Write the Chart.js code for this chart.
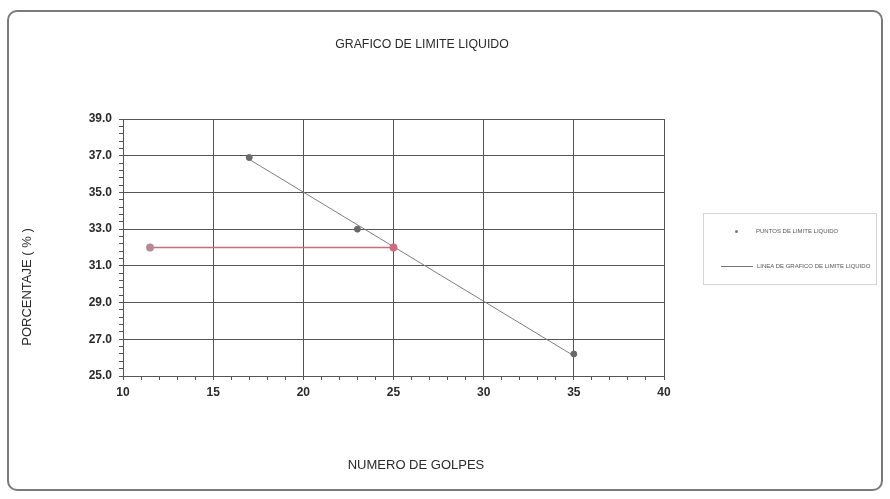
<!DOCTYPE html>
<html>
<head>
<meta charset="utf-8">
<script src="https://cdn.jsdelivr.net/npm/chart.js@4.4.1/dist/chart.umd.min.js"></script>
<style>
    html, body { margin: 0; padding: 0; background: #fff; }
    #wrap { position: relative; width: 890px; height: 499px; font-family: "Liberation Sans", Arial, sans-serif; color: #2a2a2a; }
    #frame {
        position: absolute; left: 7px; top: 10px; width: 872px; height: 477px;
        border: 2px solid #7a7a7a; border-radius: 10px;
    }
    #chart { position: absolute; left: 0; top: 0; }
    .label { position: absolute; white-space: nowrap; text-align: center; }
    #title { left: 272px; top: 37px; width: 300px; font-size: 12.3px; line-height: 14px; }
    #xTitle { left: 266px; top: 457px; width: 300px; font-size: 13px; line-height: 16px; }
    #yTitle { left: -73px; top: 279px; width: 200px; font-size: 13px; line-height: 16px; transform: rotate(-90deg); }
    #legend {
        position: absolute; left: 703px; top: 213px; width: 172px; height: 70px;
        border: 1px solid #d4d4d4; font-size: 6px; color: #555;
    }
    .item { position: absolute; left: 0; display: flex; align-items: center; white-space: nowrap; }
    .dot { width: 3px; height: 3px; border-radius: 50%; background: #777; margin: 0 18px 0 31px; }
    .seg { width: 32px; height: 1px; background: #777; margin: 0 4px 0 17px; }
</style>
</head>
<body>
<div id="wrap">
    <div id="frame"></div>
    <canvas id="chart" width="890" height="499"></canvas>
    <div class="label" id="title">GRAFICO DE LIMITE LIQUIDO</div>
    <div class="label" id="xTitle">NUMERO DE GOLPES</div>
    <div class="label" id="yTitle">PORCENTAJE ( % )</div>
    <div id="legend">
        <div class="item" style="top:14px"><span class="dot"></span><span>PUNTOS DE LIMITE LIQUIDO</span></div>
        <div class="item" style="top:49px"><span class="seg"></span><span>LINEA DE GRAFICO DE LIMITE LIQUIDO</span></div>
    </div>
</div>
<script>
// Chart data
const puntosX = [17, 23, 35];
const puntosY = [36.9, 33.0, 26.2];

const lineaX = [17, 35];
const lineaY = [36.8, 26.1];

const limiteX = [11.5, 25];
const limiteY = [32.0, 32.0];

const xMin = 10, xMax = 40, xMajor = 5, xMinor = 1;
const yMin = 25, yMax = 39, yMajor = 2, yMinor = 0.4;

const toPoints = (xs, ys) => xs.map((x, i) => ({ x: x, y: ys[i] }));
const isWhole = (v, step) => Math.abs(v / step - Math.round(v / step)) < 1e-6;
// y labels sit on the odd values 25, 27 ... 39
const isYMajor = (v) => isWhole(v - yMin, yMajor);

const font = '"Liberation Sans", Arial, sans-serif';
const gridColor = "#555";

const ctx = document.getElementById("chart").getContext("2d");
new Chart(ctx, {
    type: "scatter",
    data: {
        datasets: [
            {
                label: "LINEA DE GRAFICO DE LIMITE LIQUIDO",
                data: toPoints(lineaX, lineaY),
                showLine: true,
                borderColor: "#7d7d7d",
                borderWidth: 1,
                pointRadius: 0,
                order: 3,
            },
            {
                label: "LIMITE",
                data: toPoints(limiteX, limiteY),
                showLine: true,
                borderColor: "#d06a80",
                borderWidth: 1.5,
                pointRadius: 3.2,
                pointBackgroundColor: ["#b78a92", "#d26a7e"],
                pointBorderColor: ["#b78a92", "#d26a7e"],
                order: 2,
            },
            {
                label: "PUNTOS DE LIMITE LIQUIDO",
                data: toPoints(puntosX, puntosY),
                showLine: false,
                pointRadius: 3,
                pointBackgroundColor: "#6a6a6a",
                pointBorderColor: "#6a6a6a",
                order: 1,
            },
        ],
    },
    options: {
        responsive: false,
        animation: false,
        layout: { padding: { left: 0, right: 226, top: 119, bottom: 0 } },
        plugins: {
            legend: { display: false },
            tooltip: { enabled: false },
        },
        scales: {
            x: {
                type: "linear",
                min: xMin,
                max: xMax,
                afterFit: (s) => { s.height = 123; },
                border: { color: gridColor, width: 1 },
                grid: {
                    color: (c) => (isWhole(c.tick.value, xMajor) ? gridColor : "transparent"),
                    tickColor: gridColor,
                    tickLength: 4,
                    lineWidth: 1,
                },
                ticks: {
                    stepSize: xMinor,
                    autoSkip: false,
                    maxRotation: 0,
                    padding: 5,
                    color: "#2a2a2a",
                    font: { family: font, size: 12, weight: "bold" },
                    callback: (v) => (isWhole(v, xMajor) ? String(Math.round(v)) : ""),
                },
            },
            y: {
                type: "linear",
                min: yMin,
                max: yMax,
                afterFit: (s) => { s.width = 123; },
                border: { color: gridColor, width: 1 },
                grid: {
                    color: (c) => (isYMajor(c.tick.value) ? gridColor : "transparent"),
                    tickColor: gridColor,
                    tickLength: 4,
                    lineWidth: 1,
                },
                ticks: {
                    stepSize: yMinor,
                    autoSkip: false,
                    padding: 7,
                    color: "#2a2a2a",
                    font: { family: font, size: 12, weight: "bold" },
                    callback: (v) => (isYMajor(v) ? v.toFixed(1) : ""),
                },
            },
        },
    },
    plugins: [
        {
            // right edge of the plot area
            id: "plotBorder",
            afterDraw(chart) {
                const a = chart.chartArea;
                const c = chart.ctx;
                c.save();
                c.strokeStyle = gridColor;
                c.lineWidth = 1;
                c.beginPath();
                c.moveTo(Math.round(a.right) + 0.5, a.top);
                c.lineTo(Math.round(a.right) + 0.5, a.bottom);
                c.stroke();
                c.restore();
            },
        },
    ],
});
</script>
</body>
</html>
